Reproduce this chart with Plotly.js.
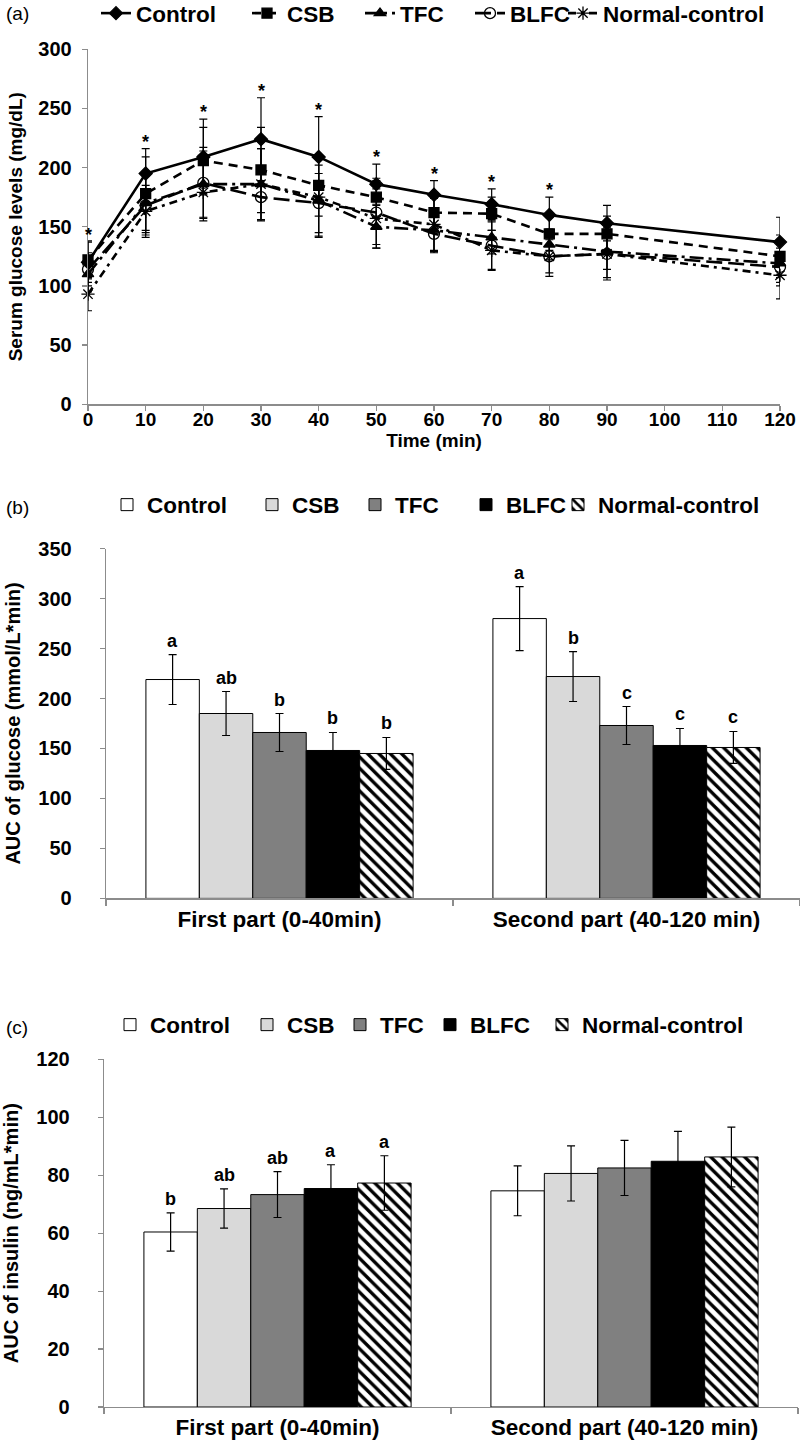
<!DOCTYPE html>
<html>
<head>
<meta charset="utf-8">
<script src="https://cdn.plot.ly/plotly-3.0.1.min.js"></script>
<style>
html,body{margin:0;padding:0;background:#ffffff;overflow:hidden;}
#chart{width:800px;height:1458px;margin-top:-8px;}
</style>
</head>
<body>
<div id="chart"></div>
<script>
// ---------- Panel (a): serum glucose time course ----------
const timeMin = [0, 10, 20, 30, 40, 50, 60, 70, 80, 90, 120];
const timeTicks = [0, 10, 20, 30, 40, 50, 60, 70, 80, 90, 100, 110, 120];

const glucControl   = [120, 195, 209, 224, 209, 186, 177, 169, 160, 153, 137];
const glucControlSD = [17, 21, 32, 35, 34, 17, 12, 13, 15, 15, 21];
const glucCSB       = [122, 178, 206, 198, 185, 175, 162, 161, 144, 144, 125];
const glucCSBSD     = [16, 31, 28, 36, 26, 16, 14, 14, 14, 15, 18];
const glucTFC       = [110, 170, 186, 186, 172, 150, 147, 141, 135, 129, 119];
const glucTFCSD     = [15, 25, 28, 30, 30, 18, 18, 14, 13, 15, 16];
const glucBLFC      = [114, 168, 187, 175, 170, 162, 144, 134, 125, 127, 116];
const glucBLFCSD    = [14, 25, 30, 20, 25, 27, 16, 20, 17, 20, 16];
const glucNormal    = [93, 163, 179, 186, 175, 157, 152, 130, 125, 127, 109];
const glucNormalSD  = [14, 22, 24, 30, 34, 25, 22, 17, 14, 22, 20];
const sigMarks      = ['*', '*', '*', '*', '*', '*', '*', '*', '*', '', ''];

// ---------- Panels (b) and (c): AUC bars ----------
const groupNames = ['Control', 'CSB', 'TFC', 'BLFC', 'Normal-control'];
const aucParts = ['First part (0-40min)', 'Second part (40-120 min)'];

const aucGlucControl   = [219, 280];
const aucGlucControlSD = [25, 32];
const aucGlucCSB       = [185, 222];
const aucGlucCSBSD     = [22, 25];
const aucGlucTFC       = [166, 173];
const aucGlucTFCSD     = [19, 19];
const aucGlucBLFC      = [148, 153];
const aucGlucBLFCSD    = [18, 17];
const aucGlucNormal    = [145, 151];
const aucGlucNormalSD  = [16, 16];
const glucLettersFirst  = ['a', 'ab', 'b', 'b', 'b'];
const glucLettersSecond = ['a', 'b', 'c', 'c', 'c'];

const aucInsControl   = [60.4, 74.6];
const aucInsControlSD = [6.6, 8.6];
const aucInsCSB       = [68.5, 80.6];
const aucInsCSBSD     = [6.8, 9.5];
const aucInsTFC       = [73.3, 82.5];
const aucInsTFCSD     = [7.9, 9.5];
const aucInsBLFC      = [75.4, 84.8];
const aucInsBLFCSD    = [8.2, 10.3];
const aucInsNormal    = [77.3, 86.3];
const aucInsNormalSD  = [9.4, 10.3];
const insLettersFirst  = ['b', 'ab', 'ab', 'a', 'a'];
const insLettersSecond = ['', '', '', '', ''];

// ---------- styling ----------
const W = 800, OFF = 8, H = 1450 + OFF;
const FONT = 'Liberation Sans, Arial, Helvetica, sans-serif';
const AX = '#8c8c8c';
const px = v => v / W;
const py = v => 1 - (v + OFF) / H;

function errY(arr, w) {
  return {type: 'data', array: arr, visible: true, color: '#000', thickness: 1.2, width: w};
}

const traces = [];

// line series
const lineSeries = [
  {name: 'Control', y: glucControl, sd: glucControlSD, dash: 'solid', sym: 'diamond', size: 10, lw: 106},
  {name: 'CSB', y: glucCSB, sd: glucCSBSD, dash: '9px,6px', sym: 'square', size: 10, lw: 68},
  {name: 'TFC', y: glucTFC, sd: glucTFCSD, dash: '14px,5px,3px,5px', sym: 'triangle-up', size: 10, lw: 65},
  {name: 'BLFC', y: glucBLFC, sd: glucBLFCSD, dash: '16px,6px', sym: 'circle-open', size: 11, lw: 48},
  {name: 'Normal-control', y: glucNormal, sd: glucNormalSD, dash: '8px,5px,3px,5px', sym: 'asterisk-open', size: 11, lw: 170}
];
lineSeries.forEach(s => {
  traces.push({
    type: 'scatter', mode: 'lines+markers', name: s.name,
    x: timeMin, y: s.y,
    xaxis: 'x', yaxis: 'y', legend: 'legend',
    line: {color: '#000', width: 2.6, dash: s.dash},
    marker: {symbol: s.sym, size: s.size, color: '#000', line: {color: '#000', width: 1.3}},
    error_y: errY(s.sd, 4),
    cliponaxis: false,
    legendwidth: s.lw
  });
});

// bar series
const barStyles = [
  {color: '#ffffff', pattern: null},
  {color: '#d9d9d9', pattern: null},
  {color: '#808080', pattern: null},
  {color: '#000000', pattern: null},
  {color: '#ffffff', pattern: {shape: '\\', fgcolor: '#000', bgcolor: '#fff', size: 8, solidity: 0.42, fillmode: 'replace'}}
];
const glucBars = [
  [aucGlucControl, aucGlucControlSD], [aucGlucCSB, aucGlucCSBSD], [aucGlucTFC, aucGlucTFCSD],
  [aucGlucBLFC, aucGlucBLFCSD], [aucGlucNormal, aucGlucNormalSD]
];
const insBars = [
  [aucInsControl, aucInsControlSD], [aucInsCSB, aucInsCSBSD], [aucInsTFC, aucInsTFCSD],
  [aucInsBLFC, aucInsBLFCSD], [aucInsNormal, aucInsNormalSD]
];
const legW2 = [100, 58, 66, 47, 170];
const legW3 = [92, 48, 45, 67, 170];

function addBars(data, xa, ya, leg, lws) {
  data.forEach((d, i) => {
    const st = barStyles[i];
    const marker = {color: st.color, line: {color: '#000', width: 1}};
    if (st.pattern) marker.pattern = st.pattern;
    traces.push({
      type: 'bar', name: groupNames[i], x: aucParts, y: d[0],
      xaxis: xa, yaxis: ya, legend: leg,
      marker: marker,
      error_y: errY(d[1], 4),
      legendwidth: lws[i]
    });
  });
}
addBars(glucBars, 'x2', 'y2', 'legend2', legW2);
addBars(insBars, 'x3', 'y3', 'legend3', legW3);

// annotations
const annotations = [];
timeMin.forEach((t, i) => {
  if (sigMarks[i]) {
    annotations.push({
      xref: 'x', yref: 'y', x: t, y: glucControl[i] + glucControlSD[i],
      text: sigMarks[i], showarrow: false, yanchor: 'bottom', yshift: -5,
      font: {size: 18, family: FONT, color: '#000', weight: 'bold'}
    });
  }
});

const BARGAP = 0.23;
const nGroups = groupNames.length;
const barW = (1 - BARGAP) / nGroups;
function addLetters(lettersByPart, data, xr, yr) {
  lettersByPart.forEach((letters, p) => {
    letters.forEach((txt, i) => {
      if (!txt) return;
      annotations.push({
        xref: xr, yref: yr,
        x: p - (1 - BARGAP) / 2 + barW * (i + 0.5),
        y: data[i][0][p] + data[i][1][p],
        text: txt, showarrow: false, yanchor: 'bottom', yshift: 2,
        font: {size: 18, family: FONT, color: '#000', weight: 'bold'}
      });
    });
  });
}
addLetters([glucLettersFirst, glucLettersSecond], glucBars, 'x2', 'y2');
addLetters([insLettersFirst, insLettersSecond], insBars, 'x3', 'y3');

[['(a)', 13], ['(b)', 507], ['(c)', 1027]].forEach(([t, y]) => {
  annotations.push({
    xref: 'paper', yref: 'paper', x: px(4), y: py(y), xanchor: 'left', yanchor: 'middle',
    text: t, showarrow: false, font: {size: 19, family: FONT, color: '#000'}
  });
});

const tickFont = {size: 20, family: FONT, color: '#000', weight: 'bold'};
const titleFont = {size: 19, family: FONT, color: '#000', weight: 'bold'};
function baseAxis() {
  return {
    showline: true, linecolor: AX, linewidth: 1.3,
    ticks: 'outside', ticklen: 5, tickcolor: AX, tickwidth: 1.2,
    showgrid: false, zeroline: false, tickfont: tickFont, fixedrange: true
  };
}

const legendBase = {
  orientation: 'h', xanchor: 'left', yanchor: 'middle',
  font: {size: 22.5, family: FONT, color: '#000', weight: 'bold'},
  bgcolor: 'rgba(0,0,0,0)', borderwidth: 0, itemwidth: 30, traceorder: 'normal'
};

const layout = {
  width: W, height: H,
  margin: {l: 0, r: 0, t: 0, b: 0},
  paper_bgcolor: '#fff', plot_bgcolor: '#fff',
  font: {family: FONT, color: '#000', size: 18},
  barmode: 'group', bargap: BARGAP, bargroupgap: 0,
  showlegend: true,
  xaxis: Object.assign(baseAxis(), {
    domain: [px(88), px(780)], anchor: 'y', range: [0, 120],
    tickmode: 'array', tickvals: timeTicks, tickfont: Object.assign({}, tickFont, {size: 19}),
    ticklabelstandoff: -7,
    title: {text: 'Time (min)', font: titleFont, standoff: 0}
  }),
  yaxis: Object.assign(baseAxis(), {
    domain: [py(403.5), py(48.3)], anchor: 'x', range: [0, 300], dtick: 50,
    ticklabelstandoff: 6,
    title: {text: 'Serum glucose levels (mg/dL)', font: titleFont, standoff: 10}
  }),
  xaxis2: Object.assign(baseAxis(), {
    domain: [px(106), px(800)], anchor: 'y2', type: 'category', tickson: 'boundaries', ticklen: 6,
    tickfont: Object.assign({}, tickFont, {size: 22.5})
  }),
  yaxis2: Object.assign(baseAxis(), {
    domain: [py(898), py(548)], anchor: 'x2', range: [0, 350], dtick: 50,
    ticklabelstandoff: 24,
    title: {text: 'AUC of glucose (mmol/L*min)', font: Object.assign({}, titleFont, {size: 20}), standoff: 12}
  }),
  xaxis3: Object.assign(baseAxis(), {
    domain: [px(104), px(798)], anchor: 'y3', type: 'category', tickson: 'boundaries', ticklen: 6,
    tickfont: Object.assign({}, tickFont, {size: 22.5})
  }),
  yaxis3: Object.assign(baseAxis(), {
    domain: [py(1407), py(1059)], anchor: 'x3', range: [0, 120], dtick: 20,
    ticklabelstandoff: 24,
    title: {text: 'AUC of insulin (ng/mL*min)', font: Object.assign({}, titleFont, {size: 20}), standoff: 12}
  }),
  legend: Object.assign({}, legendBase, {x: px(96), y: py(13)}),
  legend2: Object.assign({}, legendBase, {x: px(107), y: py(505)}),
  legend3: Object.assign({}, legendBase, {x: px(110), y: py(1025)}),
  annotations: annotations
};

Plotly.newPlot('chart', traces, layout, {displayModeBar: false, staticPlot: true});
</script>
</body>
</html>
